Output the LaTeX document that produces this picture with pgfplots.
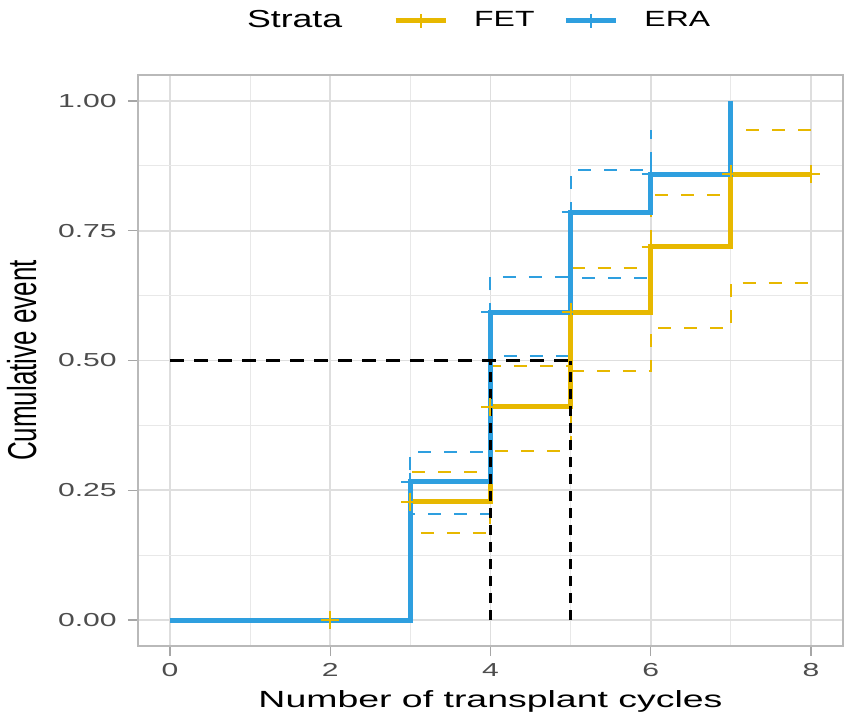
\documentclass[border=0pt]{standalone}
\usepackage{fontspec}
\setmainfont{Liberation Sans}
\usepackage{graphicx}
\usepackage{pgfplots}
\pgfplotsset{compat=1.18}
\definecolor{fet}{HTML}{E7B800}
\definecolor{era}{HTML}{2E9FDF}
\definecolor{ticklab}{HTML}{4D4D4D}
\begin{document}
\begin{tikzpicture}
\begin{axis}[name=ax, at={(0,0)}, anchor=south west,
  scale only axis, width=352.5pt, height=285.5pt,
  xmin=-0.4, xmax=8.4, ymin=-0.05, ymax=1.05,
  xtick={0,2,4,6,8}, ytick={0,0.25,0.5,0.75,1},
  minor xtick={1,3,5,7}, minor ytick={0.125,0.375,0.625,0.875},
  yticklabels={0.00,0.25,0.50,0.75,1.00},
  grid=both,
  major grid style={gray!26, line width=0.8pt},
  minor grid style={gray!18, line width=0.5pt},
  axis line style={gray!55, line width=0.8pt},
  tick align=outside, xtick pos=bottom, ytick pos=left,
  major tick length=5pt, minor tick length=0pt,
  tick style={gray!70, line width=0.6pt},
  /pgf/number format/assume math mode=true,
  ticklabel style={font=\fontsize{9.4}{11}\selectfont, text=ticklab, xscale=1.6},
  xlabel={Number of transplant cycles},
  ylabel={Cumulative event},
  xlabel style={font=\fontsize{11.7}{14}\selectfont, xscale=1.6},
  ylabel style={font=\fontsize{13}{15}\selectfont, yscale=1.55},
  legend columns=-1,
  legend style={at={(0.4675,1.095)}, anchor=center, draw=none, fill=none,
    /tikz/every odd column/.append style={column sep=11pt},
    /tikz/every even column/.append style={column sep=12.5pt}},
  legend image code/.code={\draw[mark repeat=2,mark phase=2,#1] plot coordinates {(0pt,0pt) (12.5pt,0pt) (25pt,0pt)};},
]
% confidence bands FET
\addplot[forget plot, fet, line width=1pt, dash pattern=on 6.5pt off 6.5pt, const plot] coordinates {(0,0) (3,0.285) (4,0.489) (5,0.679) (6,0.819) (7,0.944) (8,0.944)};
\addplot[forget plot, fet, line width=1pt, dash pattern=on 6.5pt off 6.5pt, const plot] coordinates {(0,0) (3,0.168) (4,0.326) (5,0.480) (6,0.562) (7,0.650) (8,0.650)};
% confidence bands ERA
\addplot[forget plot, era, line width=1pt, dash pattern=on 6.5pt off 6.5pt, const plot] coordinates {(0,0) (3,0.323) (4,0.661) (5,0.867) (6,0.944)};
\addplot[forget plot, era, line width=1pt, dash pattern=on 6.5pt off 6.5pt, const plot] coordinates {(0,0) (3,0.204) (4,0.509) (5,0.658) (6,0.658)};
% main curves
\addplot[forget plot, fet, line width=2.5pt, const plot] coordinates {(0,0) (3,0.228) (4,0.411) (5,0.593) (6,0.719) (7,0.859) (8,0.859)};
\addplot[forget plot, era, line width=2.5pt, const plot] coordinates {(0,0) (3,0.266) (4,0.593) (5,0.786) (6,0.859) (7,1.0)};
% censor marks
\addplot[forget plot, fet, only marks, mark=+, mark size=4.5pt, mark options={line width=1pt}] coordinates {(2,0) (3,0.228) (4,0.411) (5,0.593) (6,0.719) (7,0.859) (8,0.859)};
\addplot[forget plot, era, only marks, mark=+, mark size=4.5pt, mark options={line width=1pt}] coordinates {(3,0.266) (4,0.593) (5,0.786) (6,0.859)};
% median lines
\addplot[forget plot, black, line width=1.5pt, dash pattern=on 7pt off 5pt] coordinates {(0,0.5) (5,0.5)};
\addplot[forget plot, black, line width=1.5pt, dash pattern=on 5pt off 3.5pt] coordinates {(4,0) (4,0.5)};
\addplot[forget plot, black, line width=1.5pt, dash pattern=on 5pt off 3.5pt] coordinates {(5,0) (5,0.5)};
% legend
\addlegendimage{empty legend}
\addlegendentry{\fontsize{12.3}{14}\selectfont\scalebox{1.45}[1]{Strata}\rule{11pt}{0pt}}
\addlegendimage{fet, line width=2.5pt, mark=+, mark size=3.5pt, mark options={line width=1pt}}
\addlegendentry{\fontsize{11}{13}\selectfont\scalebox{1.45}[1]{FET}}
\addlegendimage{era, line width=2.5pt, mark=+, mark size=3.5pt, mark options={line width=1pt}}
\addlegendentry{\fontsize{11}{13}\selectfont\scalebox{1.45}[1]{ERA}}
\end{axis}
\pgfresetboundingbox
\path ([shift={(-69pt,-36.5pt)}]ax.south west) rectangle ([shift={(356.5pt,323pt)}]ax.south west);
\end{tikzpicture}
\end{document}
